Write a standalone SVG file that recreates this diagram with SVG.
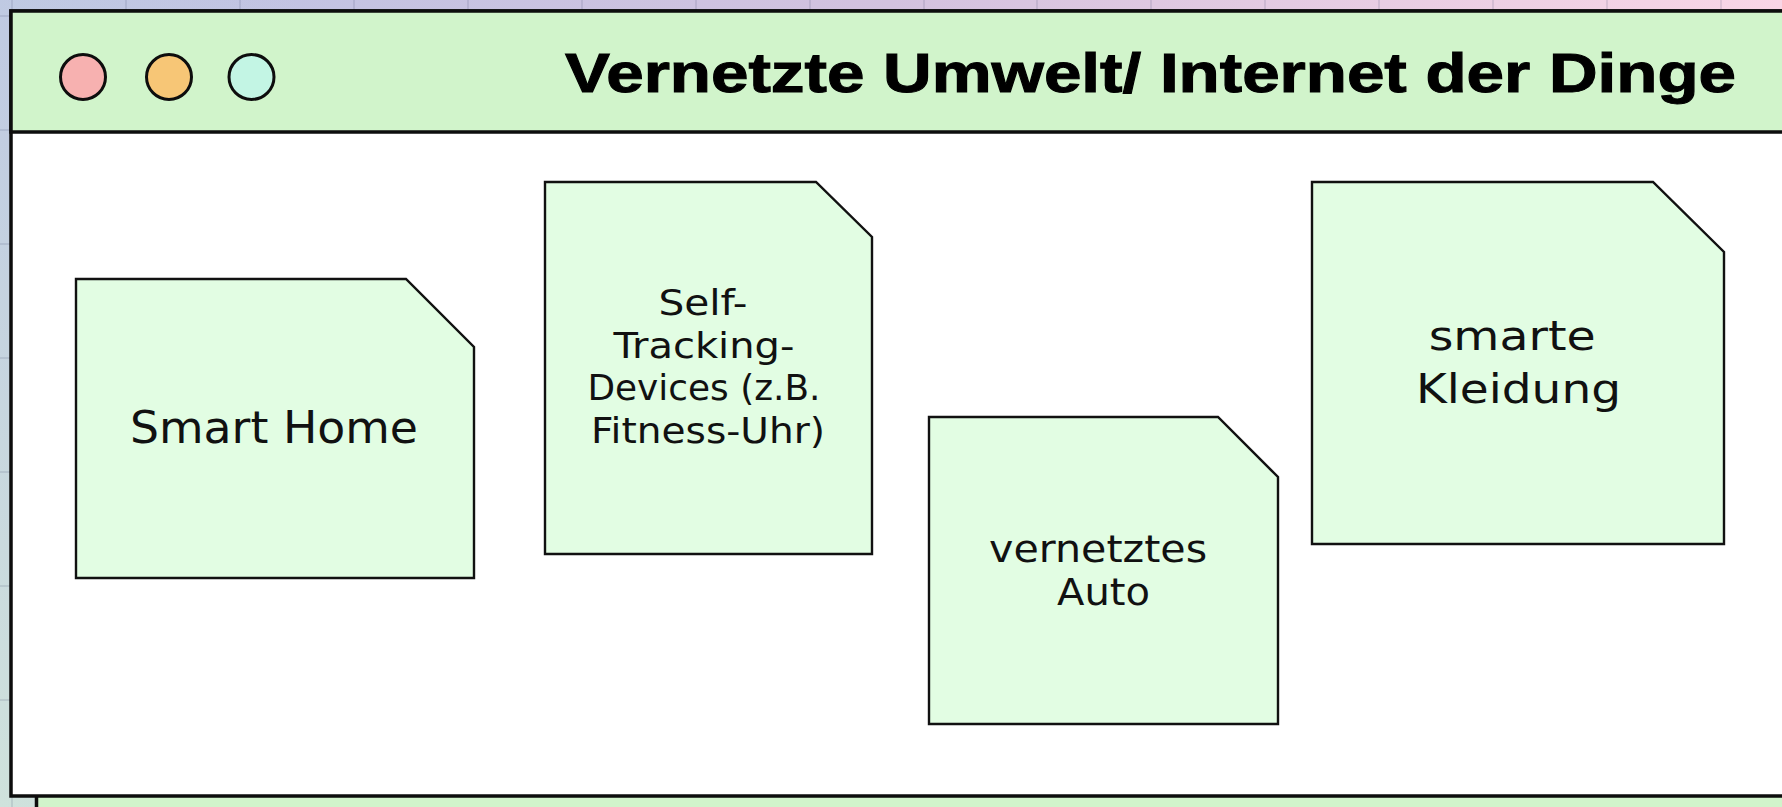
<svg xmlns="http://www.w3.org/2000/svg" width="1782" height="807" viewBox="0 0 1782 807">
  <defs>
    <linearGradient id="bgH" x1="0" y1="0" x2="1782" y2="0" gradientUnits="userSpaceOnUse">
      <stop offset="0" stop-color="#bbc3e4"/>
      <stop offset="0.5" stop-color="#d3c2df"/>
      <stop offset="1" stop-color="#f9d6e6"/>
    </linearGradient>
    <linearGradient id="bgV" x1="0" y1="807" x2="500" y2="150" gradientUnits="userSpaceOnUse">
      <stop offset="0" stop-color="#cfe2dc" stop-opacity="1"/>
      <stop offset="1" stop-color="#cfe2dc" stop-opacity="0"/>
    </linearGradient>
    <style>
      .grid { stroke: #4a4f70; stroke-opacity: 0.14; stroke-width: 2; fill: none; }
      .frame { stroke: #0d0d0d; stroke-width: 3.5; }
      .bar { fill: #d1f4cb; }
      .dot { stroke: #0d0d0d; stroke-width: 3; }
      .card { fill: #e2fde3; stroke: #111111; stroke-width: 2.4; stroke-linejoin: miter; }
      .title { font-family: "Liberation Sans", Arial, sans-serif; font-weight: 700; font-size: 55px; fill: #000000; stroke: #000000; stroke-width: 1; }
      .lbl { font-family: "DejaVu Sans", "Liberation Sans", sans-serif; fill: #111111; text-anchor: middle; }
    </style>
  </defs>

  <g id="background">
    <rect x="0" y="0" width="1782" height="807" fill="url(#bgH)"/>
    <rect x="0" y="0" width="1782" height="807" fill="url(#bgV)"/>
    <path class="grid" d="M12 0V807M126 0V807M240 0V807M354 0V807M468 0V807M582 0V807M696 0V807M810 0V807M924 0V807M1037 0V807M1151 0V807M1265 0V807M1379 0V807M1493 0V807M1607 0V807M1721 0V807M0 16H1782M0 130H1782M0 244H1782M0 358H1782M0 472H1782M0 586H1782M0 700H1782"/>
  </g>

  <g id="back-window">
    <rect class="frame bar" x="36.5" y="720" width="1800" height="200"/>
  </g>

  <g id="window">
    <rect class="frame" x="11" y="11" width="1800" height="785" fill="#ffffff"/>
    <rect class="frame bar" x="11" y="11" width="1800" height="121"/>
    <circle class="dot" cx="83" cy="77" r="22.5" fill="#f7b1b0"/>
    <circle class="dot" cx="169" cy="77" r="22.5" fill="#f7c676"/>
    <circle class="dot" cx="251.5" cy="77" r="22.5" fill="#c3f5e4"/>
    <text class="title" x="565" y="92" textLength="1171" lengthAdjust="spacingAndGlyphs">Vernetzte Umwelt/ Internet der Dinge</text>
  </g>

  <g id="connectors"></g>

  <g id="node-smart-home">
    <polygon class="card" points="76,279 406,279 474,347 474,578 76,578"/>
    <text class="lbl" x="274" y="443" font-size="45" textLength="288" lengthAdjust="spacingAndGlyphs">Smart Home</text>
  </g>

  <g id="node-self-tracking">
    <polygon class="card" points="545,182 816,182 872,237 872,554 545,554"/>
    <text class="lbl" font-size="35">
      <tspan x="708.5" y="315" textLength="89" lengthAdjust="spacingAndGlyphs">Self-</tspan>
      <tspan x="709.5" y="358" textLength="181" lengthAdjust="spacingAndGlyphs">Tracking-</tspan>
      <tspan x="709.5" y="400" textLength="233" lengthAdjust="spacingAndGlyphs">Devices (z.B.</tspan>
      <tspan x="708" y="443" textLength="234" lengthAdjust="spacingAndGlyphs">Fitness-Uhr)</tspan>
    </text>
  </g>

  <g id="node-auto">
    <polygon class="card" points="929,417 1218,417 1278,477 1278,724 929,724"/>
    <text class="lbl" font-size="37">
      <tspan x="1104" y="562" textLength="218" lengthAdjust="spacingAndGlyphs">vernetztes</tspan>
      <tspan x="1103.5" y="605" textLength="93" lengthAdjust="spacingAndGlyphs">Auto</tspan>
    </text>
  </g>

  <g id="node-kleidung">
    <polygon class="card" points="1312,182 1653,182 1724,252 1724,544 1312,544"/>
    <text class="lbl" font-size="40">
      <tspan x="1518.5" y="350" textLength="167" lengthAdjust="spacingAndGlyphs">smarte</tspan>
      <tspan x="1518.5" y="403" textLength="205" lengthAdjust="spacingAndGlyphs">Kleidung</tspan>
    </text>
  </g>
</svg>
